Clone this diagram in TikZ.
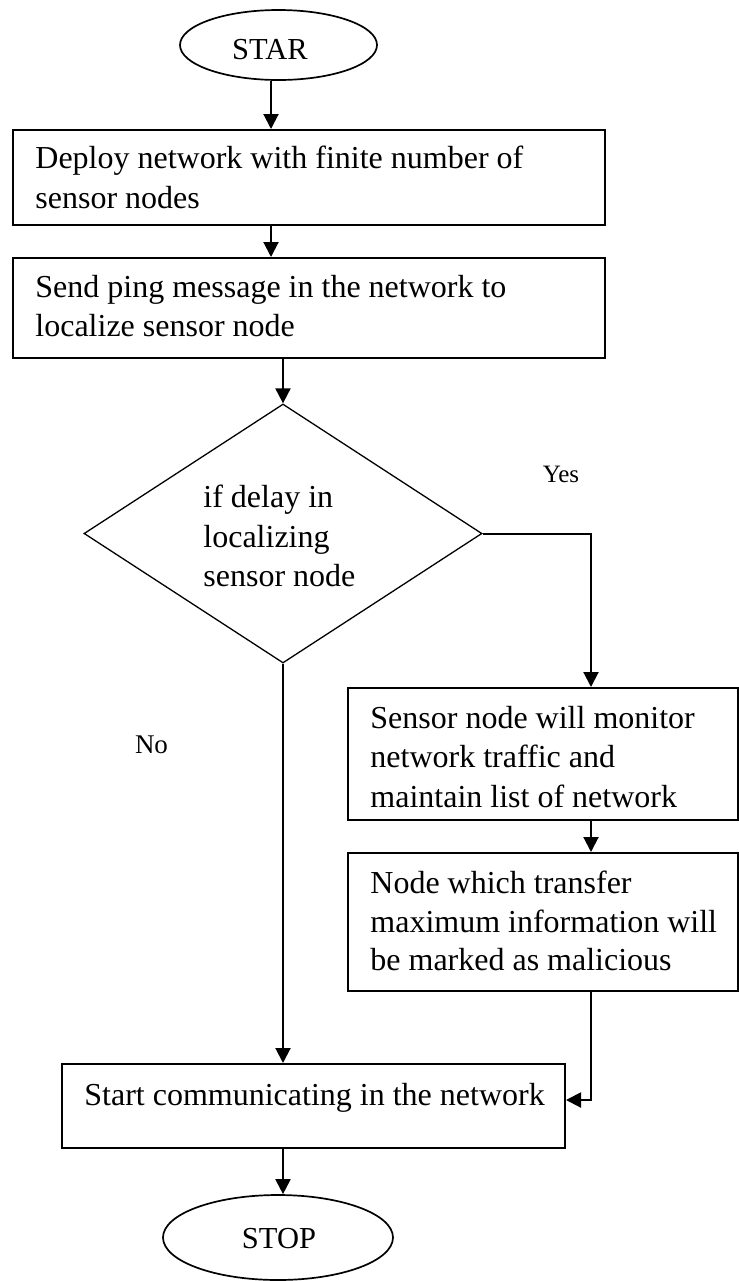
\documentclass[tikz,border=0pt]{standalone}
\usepackage{fontspec}
\setmainfont{Liberation Serif}
\usetikzlibrary{arrows.meta,shapes.geometric,fit}
\newcommand\mainfs{\fontsize{16}{19}\selectfont}
\newcommand\termfs{\fontsize{15.25}{18}\selectfont}
\begin{document}
\begin{tikzpicture}[x=0.5pt,y=-0.5pt,
  boxst/.style={draw,line width=1pt,rectangle,inner sep=0pt},
  txt/.style={anchor=base west,inner sep=0pt,font=\mainfs},
  termtxt/.style={anchor=base,inner sep=0pt,font=\termfs},
  termst/.style={draw,ellipse,line width=0.85pt,inner sep=0pt},
  decst/.style={draw,diamond,line width=0.65pt,inner sep=0pt,aspect=1.5},
  arr/.style={-{Triangle[length=7.5pt,width=7.5pt]},line width=1pt},
  lbl/.style={anchor=base,inner sep=0pt}]
\useasboundingbox (0,0) rectangle (739,1281);
% helper coordinates for connector columns
\coordinate (xa) at (271,0);
\coordinate (xb) at (283,0);
\coordinate (xc) at (591,0);
\coordinate (yd) at (0,1100);
% terminals
\node[termst,minimum width=98.5pt,minimum height=35pt] (start) at (278.5,45) {};
\node[termtxt] (starttxt) at (270,59) {STAR};
\node[termst,minimum width=115pt,minimum height=42.5pt] (stop) at (278,1237.5) {};
\node[termtxt] (stoptxt) at (279,1248) {STOP};
% process boxes
\node[boxst,fit={(13,130) (605,225)}] (box1) {};
\node[txt] (t1a) at (35,168) {Deploy network with finite number of};
\node[txt] (t1b) at (35,208) {sensor nodes};
\node[boxst,fit={(13,258) (605,358)}] (box2) {};
\node[txt] (t2a) at (35,297) {Send ping message in the network to};
\node[txt] (t2b) at (35,336) {localize sensor node};
% decision
\node[decst,minimum width=199pt,minimum height=129.5pt] (dec) at (283,533.5) {};
\node[txt] (tda) at (203,507) {if delay in};
\node[txt] (tdb) at (203,547) {localizing};
\node[txt] (tdc) at (203,586) {sensor node};
% right branch
\node[boxst,fit={(348,688) (738,820)}] (box3) {};
\node[txt] (t3a) at (370,728) {Sensor node will monitor};
\node[txt] (t3b) at (370,767) {network traffic and};
\node[txt] (t3c) at (370,807) {maintain list of network};
\node[boxst,fit={(348,853) (738,991)}] (box4) {};
\node[txt] (t4a) at (370,893) {Node which transfer};
\node[txt] (t4b) at (370,932) {maximum information will};
\node[txt] (t4c) at (370,970) {be marked as malicious};
% final process
\node[boxst,fit={(62,1064) (565,1148)}] (box5) {};
\node[txt] (t5a) at (84,1105) {Start communicating in the network};
% branch labels
\node[lbl,font=\fontsize{12.5}{15}\selectfont] (yes) at (561,482) {Yes};
\node[lbl,font=\fontsize{13.5}{16}\selectfont] (no) at (151.5,753) {No};
% connectors
\draw[arr] (start.south -| xa) -- (box1.north -| xa);
\draw[arr] (box1.south -| xa) -- (box2.north -| xa);
\draw[arr] (box2.south -| xb) -- (dec.north);
\draw[arr] (dec.east) -| (box3.north -| xc);
\draw[arr] (box3.south -| xc) -- (box4.north -| xc);
\draw[arr] (box4.south -| xc) -- (xc |- yd) -- (box5.east |- yd);
\draw[arr] (dec.south) -- (box5.north -| xb);
\draw[arr] (box5.south -| xb) -- (stop.north -| xb);
\end{tikzpicture}
\end{document}
